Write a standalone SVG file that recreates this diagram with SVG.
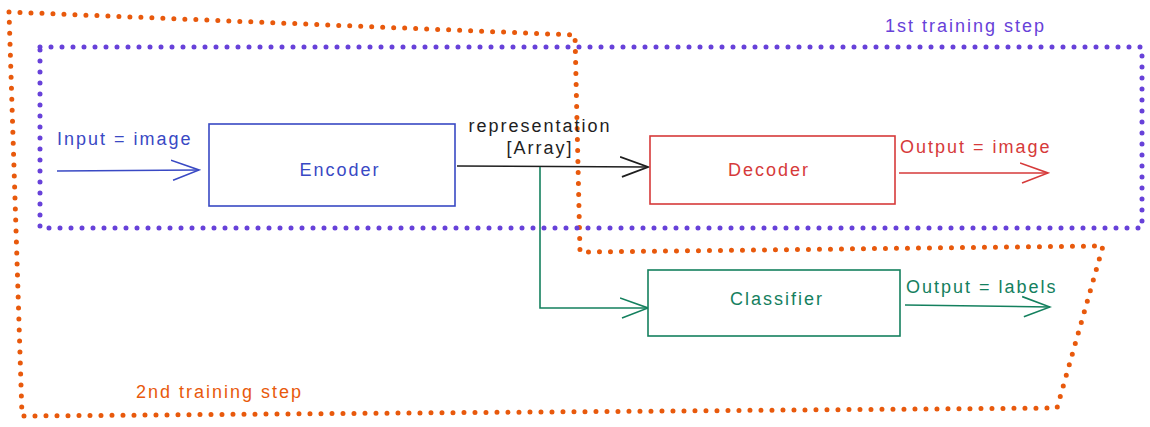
<svg xmlns="http://www.w3.org/2000/svg" width="1150" height="427" viewBox="0 0 1150 427">
<style>
text{font-family:"Liberation Sans","DejaVu Sans",sans-serif;font-size:18px;letter-spacing:2px}
.dot{fill:none;stroke-width:5;stroke-linecap:round;stroke-dasharray:0 11}
.box{fill:#fff;stroke-width:1.6}
.ln{fill:none;stroke-width:1.6}
</style>
<defs>
<marker id="ab" viewBox="0 0 30 24" refX="28" refY="12" markerWidth="30" markerHeight="24" markerUnits="userSpaceOnUse" orient="auto"><path d="M0,2 L28,12 L2,22" fill="none" stroke="#3949c4" stroke-width="1.6"/></marker>
<marker id="ak" viewBox="0 0 30 24" refX="28" refY="12" markerWidth="30" markerHeight="24" markerUnits="userSpaceOnUse" orient="auto"><path d="M0,2 L28,12 L2,22" fill="none" stroke="#1e1e1e" stroke-width="1.8"/></marker>
<marker id="ar" viewBox="0 0 30 24" refX="28" refY="12" markerWidth="30" markerHeight="24" markerUnits="userSpaceOnUse" orient="auto"><path d="M0,2 L28,12 L2,22" fill="none" stroke="#d63a3a" stroke-width="1.6"/></marker>
<marker id="ag" viewBox="0 0 30 24" refX="28" refY="12" markerWidth="30" markerHeight="24" markerUnits="userSpaceOnUse" orient="auto"><path d="M0,2 L28,12 L2,22" fill="none" stroke="#14805e" stroke-width="1.6"/></marker>
</defs>
<g id="group-2nd">
<path class="dot" stroke="#e8590c" d="M9,12 L575,35 L580,252 L1103,246 L1057,408 L22,416 Z"/>
<text x="136" y="398" fill="#e8590c">2nd training step</text>
</g>
<g id="group-1st">
<rect class="dot" stroke="#6741d9" x="40" y="47" width="1102" height="181"/>
<text x="885" y="32" fill="#6741d9">1st training step</text>
</g>
<g id="connectors">
<path class="ln" stroke="#3949c4" d="M57,171 L199,170" marker-end="url(#ab)"/>
<text x="57" y="145" fill="#3949c4">Input = image</text>
<path class="ln" stroke="#1e1e1e" stroke-width="2.2" d="M457,166 L648,167" marker-end="url(#ak)"/>
<text x="540" y="132" fill="#1e1e1e" text-anchor="middle">representation</text>
<text x="540" y="154" fill="#1e1e1e" text-anchor="middle">[Array]</text>
<path class="ln" stroke="#d63a3a" d="M899,173 L1048,173" marker-end="url(#ar)"/>
<text x="900" y="153" fill="#d63a3a">Output = image</text>
<path class="ln" stroke="#14805e" d="M540,167 L540,308 L648,308" marker-end="url(#ag)"/>
<path class="ln" stroke="#14805e" d="M905,305 L1050,307" marker-end="url(#ag)"/>
<text x="906" y="293" fill="#14805e">Output = labels</text>
</g>
<g id="encoder">
<rect class="box" stroke="#3949c4" x="209" y="124" width="246" height="82"/>
<text x="340" y="176" fill="#3949c4" text-anchor="middle">Encoder</text>
</g>
<g id="decoder">
<rect class="box" stroke="#d63a3a" x="650" y="136" width="245" height="68"/>
<text x="769" y="176" fill="#d63a3a" text-anchor="middle">Decoder</text>
</g>
<g id="classifier">
<rect class="box" stroke="#14805e" x="648" y="270" width="252" height="66"/>
<text x="777" y="305" fill="#14805e" text-anchor="middle">Classifier</text>
</g>
</svg>
